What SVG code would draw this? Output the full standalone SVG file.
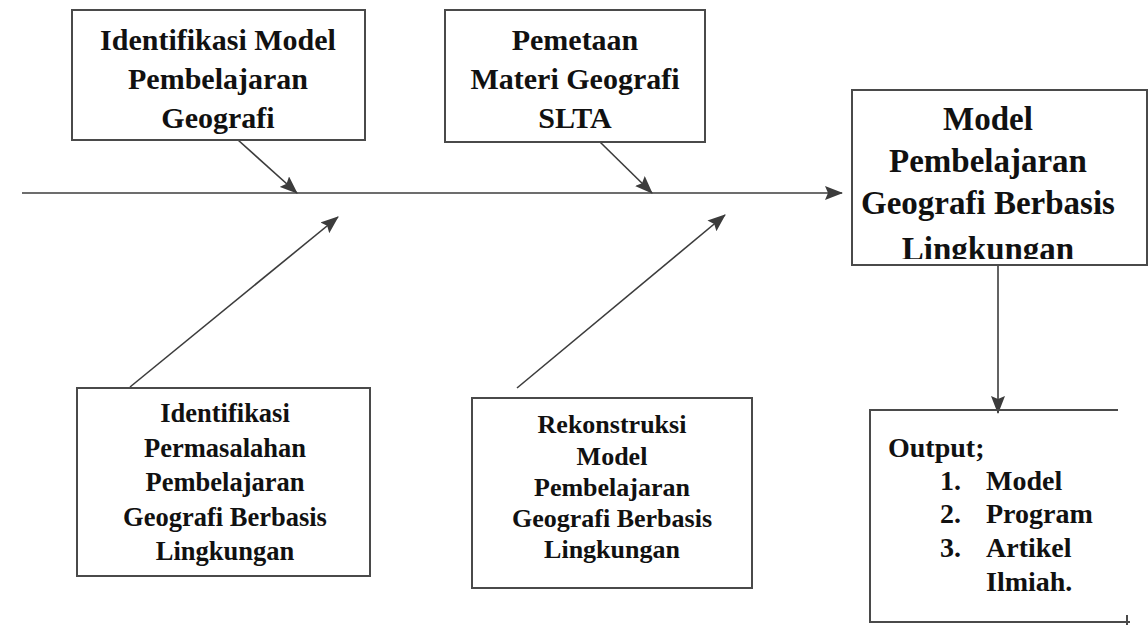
<svg xmlns="http://www.w3.org/2000/svg" width="1148" height="625" viewBox="0 0 1148 625">
  <style>
    .box { fill: #ffffff; stroke: #4a4a4a; stroke-width: 2; }
    .edge { fill: none; stroke: #4a4a4a; stroke-width: 2; }
    .conn { fill: none; stroke: #3c3c3c; stroke-width: 1.6; }
    .t { font-family: "Liberation Serif", "Times New Roman", serif; font-weight: bold; fill: #111111; }
    .c { text-anchor: middle; }
  </style>
  <defs>
    <marker id="arr" markerUnits="userSpaceOnUse" markerWidth="18" markerHeight="14" viewBox="0 0 18 14" refX="17" refY="7" orient="auto">
      <path d="M0,0 L18,7 L0,14 L3,7 Z" fill="#3c3c3c"/>
    </marker>
    <clipPath id="clip3">
      <rect x="852" y="90" width="295" height="169"/>
    </clipPath>
  </defs>
  <rect width="1148" height="625" fill="#ffffff"/>

  <g id="connectors">
    <line class="conn" x1="22" y1="193" x2="842" y2="193" marker-end="url(#arr)"/>
    <line class="conn" x1="238" y1="140" x2="297" y2="193" marker-end="url(#arr)"/>
    <line class="conn" x1="600" y1="142" x2="652" y2="193" marker-end="url(#arr)"/>
    <line class="conn" x1="130" y1="387" x2="338" y2="217" marker-end="url(#arr)"/>
    <line class="conn" x1="517" y1="388" x2="725" y2="215" marker-end="url(#arr)"/>
    <line class="conn" x1="998" y1="265" x2="998" y2="413" marker-end="url(#arr)"/>
  </g>

  <g id="node-identifikasi-model">
    <rect class="box" x="72" y="10" width="293" height="130"/>
    <text class="t c" font-size="30" x="218" y="50">Identifikasi Model</text>
    <text class="t c" font-size="30" x="218" y="89">Pembelajaran</text>
    <text class="t c" font-size="30" x="218" y="128">Geografi</text>
  </g>

  <g id="node-pemetaan">
    <rect class="box" x="445" y="10" width="260" height="132"/>
    <text class="t c" font-size="30" x="575" y="50">Pemetaan</text>
    <text class="t c" font-size="30" x="575" y="89">Materi Geografi</text>
    <text class="t c" font-size="30" x="575" y="128">SLTA</text>
  </g>

  <g id="node-model">
    <rect class="box" x="852" y="90" width="295" height="175"/>
    <g clip-path="url(#clip3)">
      <text class="t c" font-size="33" x="988" y="130">Model</text>
      <text class="t c" font-size="33" x="988" y="172">Pembelajaran</text>
      <text class="t c" font-size="33" x="988" y="214">Geografi Berbasis</text>
      <text class="t c" font-size="33" x="988" y="260">Lingkungan</text>
    </g>
  </g>

  <g id="node-permasalahan">
    <rect class="box" x="77" y="388" width="293" height="188"/>
    <text class="t c" font-size="26.5" x="225" y="422">Identifikasi</text>
    <text class="t c" font-size="26.5" x="225" y="456.5">Permasalahan</text>
    <text class="t c" font-size="26.5" x="225" y="491">Pembelajaran</text>
    <text class="t c" font-size="26.5" x="225" y="525.5">Geografi Berbasis</text>
    <text class="t c" font-size="26.5" x="225" y="560">Lingkungan</text>
  </g>

  <g id="node-rekonstruksi">
    <rect class="box" x="472" y="398" width="280" height="190"/>
    <text class="t c" font-size="26" x="612" y="433">Rekonstruksi</text>
    <text class="t c" font-size="26" x="612" y="465">Model</text>
    <text class="t c" font-size="26" x="612" y="496">Pembelajaran</text>
    <text class="t c" font-size="26" x="612" y="527">Geografi Berbasis</text>
    <text class="t c" font-size="26" x="612" y="558">Lingkungan</text>
  </g>

  <g id="node-output">
    <path class="edge" d="M1118,410 L870,410 L870,622 L1130,622"/>
    <line class="edge" x1="1127" y1="615" x2="1127" y2="625"/>
    <text class="t" font-size="28" x="888" y="457">Output;</text>
    <text class="t" font-size="28" x="940" y="490">1.</text>
    <text class="t" font-size="28" x="986" y="490">Model</text>
    <text class="t" font-size="28" x="940" y="523">2.</text>
    <text class="t" font-size="28" x="986" y="523">Program</text>
    <text class="t" font-size="28" x="940" y="557">3.</text>
    <text class="t" font-size="28" x="986" y="557">Artikel</text>
    <text class="t" font-size="28" x="986" y="591">Ilmiah.</text>
  </g>
</svg>
